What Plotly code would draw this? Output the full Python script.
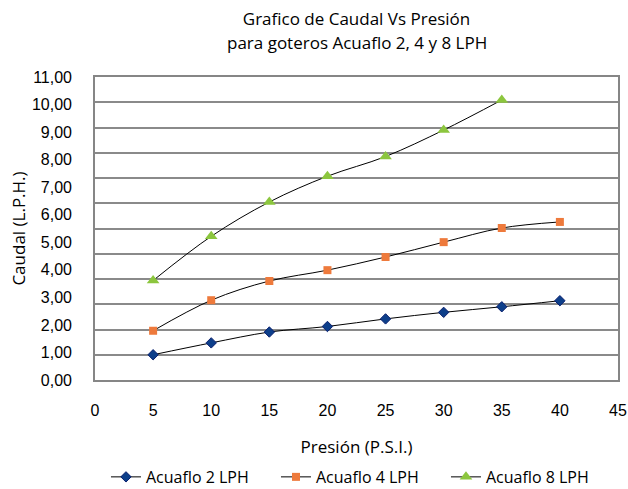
import plotly.graph_objects as go

presion = [5, 10, 15, 20, 25, 30, 35, 40]
caudal_2 = [1.00, 1.47, 1.90, 2.12, 2.42, 2.68, 2.90, 3.14]
caudal_4 = [1.95, 3.16, 3.92, 4.35, 4.87, 5.46, 6.02, 6.26]
presion_8 = [5, 10, 15, 20, 25, 30, 35]
caudal_8 = [3.94, 5.69, 7.05, 8.07, 8.85, 9.90, 11.09]
y_tick_values = list(range(0, 12))
y_tick_labels = [f"{v},00" for v in y_tick_values]

TXT = "Open Sans"
NUM = "Liberation Sans"
line_style = dict(color="#000000", width=1, shape="spline", smoothing=1)

fig = go.Figure()
fig.add_trace(go.Scatter(
    x=presion, y=caudal_2, name="Acuaflo 2 LPH", mode="lines+markers",
    line=line_style,
    marker=dict(symbol="diamond", size=8, color="#0d3f8a",
                line=dict(color="#0a1f6e", width=1))))
fig.add_trace(go.Scatter(
    x=presion, y=caudal_4, name="Acuaflo 4 LPH", mode="lines+markers",
    line=line_style,
    marker=dict(symbol="square", size=8, color="#ee7a3c",
                line=dict(color="#ee7a3c", width=0))))
fig.add_trace(go.Scatter(
    x=presion_8, y=caudal_8, name="Acuaflo 8 LPH", mode="lines+markers",
    line=line_style,
    marker=dict(symbol="triangle-up", size=11, color="#8cc63e",
                line=dict(color="#8cc63e", width=0))))
# label-only overlay axis
fig.add_trace(go.Scatter(x=[None], y=[None], yaxis="y2", showlegend=False,
                         hoverinfo="skip", mode="markers"))

fig.update_layout(
    width=628, height=489,
    margin=dict(l=95, r=10, t=77, b=109, autoexpand=False),
    paper_bgcolor="white", plot_bgcolor="white",
    title=dict(text="Grafico de Caudal Vs Presión",
               x=0.5, xanchor="center", xref="paper", y=1 - 19 / 489, yanchor="middle",
               font=dict(family=TXT, size=17, color="#000000")),
    annotations=[dict(text="para goteros Acuaflo 2, 4 y 8 LPH", showarrow=False,
                      xref="paper", yref="paper", x=0.5, xanchor="center",
                      y=(489 - 43 - 109) / 303, yanchor="middle",
                      font=dict(family=TXT, size=17, color="#000000"))],
    xaxis=dict(range=[0, 45], dtick=5, tick0=0, showgrid=False, zeroline=False,
               showline=True, linecolor="#868686", linewidth=1.5, mirror=True,
               ticks="", ticklabelstandoff=15, automargin=False,
               tickfont=dict(family=NUM, size=16, color="#000000"),
               title=dict(text="Presión (P.S.I.)", standoff=23,
                          font=dict(family=TXT, size=17, color="#000000"))),
    yaxis=dict(range=[0, 12], dtick=1, showgrid=True, gridcolor="#8a8a8a",
               gridwidth=1.6, zeroline=False, showticklabels=False,
               showline=True, linecolor="#868686", linewidth=1.5, mirror=True,
               ticks="", automargin=False),
    yaxis2=dict(range=[0, 11], overlaying="y", side="left",
                tickvals=y_tick_values, ticktext=y_tick_labels,
                showgrid=False, zeroline=False, showline=False, ticks="",
                ticklabelstandoff=22, automargin=False,
                tickfont=dict(family=NUM, size=16, color="#000000"),
                title=dict(text="Caudal (L.P.H.)", standoff=2,
                           font=dict(family=TXT, size=17, color="#000000"))),
    legend=dict(orientation="h", x=0.021, xanchor="left", y=-0.32, yanchor="middle",
                font=dict(family=TXT, size=16, color="#000000"),
                entrywidth=125, entrywidthmode="pixels", itemwidth=30),
    showlegend=True,
)

fig.write_html("out.html", config={"displayModeBar": False},
               post_script="document.body.style.margin='0';")
